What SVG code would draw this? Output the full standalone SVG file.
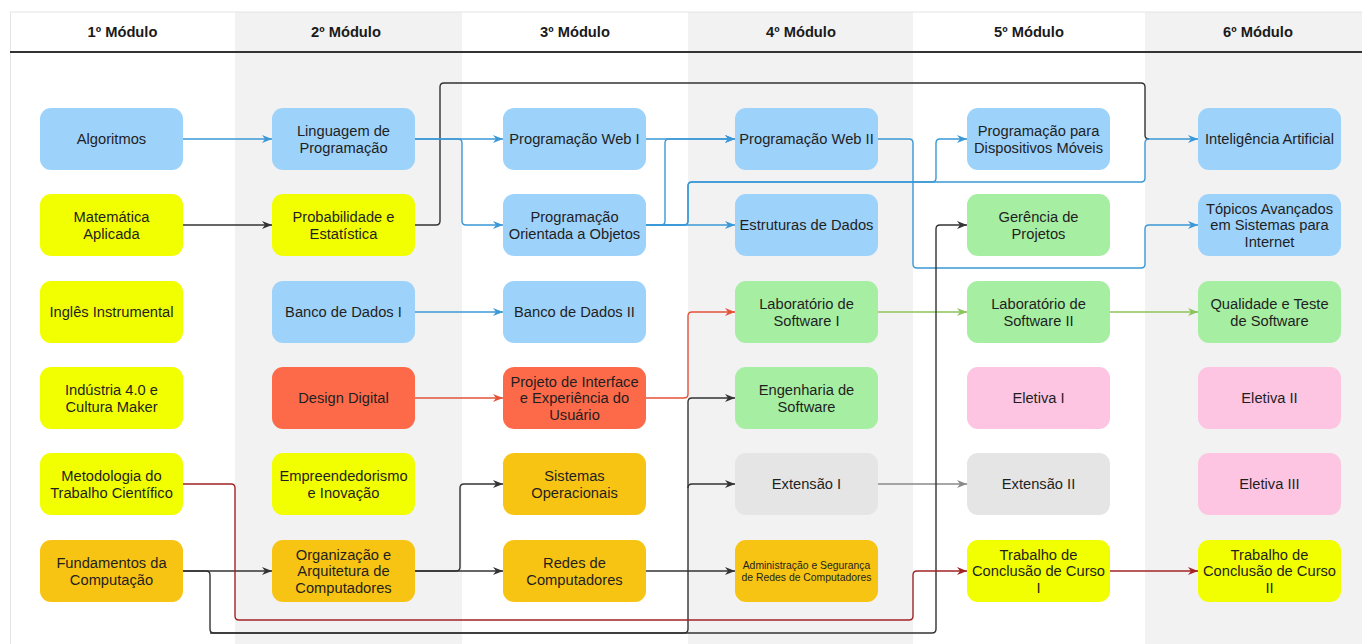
<svg xmlns="http://www.w3.org/2000/svg" width="1362" height="644" viewBox="0 0 1362 644">
<style>
.bg{fill:#f2f2f2}
.hd{font-family:"Liberation Sans",Arial,sans-serif;font-size:14.7px;font-weight:bold;fill:#1a1a1a;text-anchor:middle}
.t{font-family:"Liberation Sans",Arial,sans-serif;font-size:14.7px;fill:#1f1f1f;text-anchor:middle}
.ts{font-family:"Liberation Sans",Arial,sans-serif;font-size:10.4px;fill:#1f1f1f;text-anchor:middle}
.blue{fill:#9dd2fb}.yel{fill:#f2ff00}.org{fill:#f8c414}.red{fill:#fd6a4a}.grn{fill:#a6eea2}.pnk{fill:#fdc5e2}.gry{fill:#e5e5e5}
.c{fill:none;stroke-width:1.4;stroke-linejoin:round}
.cb{stroke:#3b98d6}.ck{stroke:#333333}.cr{stroke:#e5523a}.cg{stroke:#8cc35a}.cy{stroke:#8a8a8a}.cd{stroke:#a22424}
</style>
<defs>
<marker id="ab" markerUnits="userSpaceOnUse" markerWidth="10" markerHeight="8" refX="10" refY="4" orient="auto"><path d="M0,0 L10,4 L0,8 L3,4 z" fill="#3b98d6"/></marker>
<marker id="ak" markerUnits="userSpaceOnUse" markerWidth="10" markerHeight="8" refX="10" refY="4" orient="auto"><path d="M0,0 L10,4 L0,8 L3,4 z" fill="#333333"/></marker>
<marker id="ar" markerUnits="userSpaceOnUse" markerWidth="10" markerHeight="8" refX="10" refY="4" orient="auto"><path d="M0,0 L10,4 L0,8 L3,4 z" fill="#e5523a"/></marker>
<marker id="ag" markerUnits="userSpaceOnUse" markerWidth="10" markerHeight="8" refX="10" refY="4" orient="auto"><path d="M0,0 L10,4 L0,8 L3,4 z" fill="#8cc35a"/></marker>
<marker id="ay" markerUnits="userSpaceOnUse" markerWidth="10" markerHeight="8" refX="10" refY="4" orient="auto"><path d="M0,0 L10,4 L0,8 L3,4 z" fill="#8a8a8a"/></marker>
<marker id="ad" markerUnits="userSpaceOnUse" markerWidth="10" markerHeight="8" refX="10" refY="4" orient="auto"><path d="M0,0 L10,4 L0,8 L3,4 z" fill="#a22424"/></marker>
</defs>
<rect x="0" y="0" width="1362" height="644" fill="#ffffff"/>
<g id="lanes">
<rect class="bg" x="235" y="12" width="227" height="632"/>
<rect class="bg" x="688" y="12" width="225" height="632"/>
<rect class="bg" x="1145" y="12" width="217" height="632"/>
<line x1="10" y1="12" x2="1362" y2="12" stroke="#e4e4e4" stroke-width="1"/>
<line x1="10.5" y1="12" x2="10.5" y2="644" stroke="#e4e4e4" stroke-width="1"/>
<line x1="10" y1="52" x2="1362" y2="52" stroke="#333333" stroke-width="1.8"/>
<text class="hd" x="122.5" y="37">1º Módulo</text>
<text class="hd" x="346" y="37">2º Módulo</text>
<text class="hd" x="575" y="37">3º Módulo</text>
<text class="hd" x="801" y="37">4º Módulo</text>
<text class="hd" x="1029" y="37">5º Módulo</text>
<text class="hd" x="1258" y="37">6º Módulo</text>
</g>
<g id="connectors">
<path class="c ck" d="M415 225 H436 Q440 225 440 221 V87 Q440 83 444 83 H1141 Q1145 83 1145 87 V135 Q1145 139 1149 139"/>
<path class="c cb" d="M183 139 H272" marker-end="url(#ab)"/>
<path class="c cb" d="M415 139 H503" marker-end="url(#ab)"/>
<path class="c cb" d="M415 139 H458 Q462 139 462 143 V221 Q462 225 466 225 H503" marker-end="url(#ab)"/>
<path class="c cb" d="M646 139 H735" marker-end="url(#ab)"/>
<path class="c cb" d="M646 225 H735" marker-end="url(#ab)"/>
<path class="c cb" d="M646 225 H661 Q665 225 665 221 V143 Q665 139 669 139 H735" marker-end="url(#ab)"/>
<path class="c cb" d="M646 225 H684 Q688 225 688 221 V186 Q688 182 692 182 H932 Q936 182 936 178 V143 Q936 139 940 139 H967" marker-end="url(#ab)"/>
<path class="c cb" d="M646 225 H684 Q688 225 688 221 V186 Q688 182 692 182 H1141 Q1145 182 1145 178 V143 Q1145 139 1149 139 H1198" marker-end="url(#ab)"/>
<path class="c cb" d="M878 139 H909 Q913 139 913 143 V264 Q913 268 917 268 H1141 Q1145 268 1145 264 V229 Q1145 225 1149 225 H1198" marker-end="url(#ab)"/>
<path class="c cb" d="M415 312 H503" marker-end="url(#ab)"/>
<path class="c ck" d="M183 225 H272" marker-end="url(#ak)"/>
<path class="c cr" d="M415 398 H503" marker-end="url(#ar)"/>
<path class="c cr" d="M646 398 H684 Q688 398 688 394 V316 Q688 312 692 312 H735" marker-end="url(#ar)"/>
<path class="c cg" d="M878 312 H967" marker-end="url(#ag)"/>
<path class="c cg" d="M1110 312 H1198" marker-end="url(#ag)"/>
<path class="c cy" d="M878 484 H967" marker-end="url(#ay)"/>
<path class="c ck" d="M183 571 H272" marker-end="url(#ak)"/>
<path class="c ck" d="M415 571 H456 Q460 571 460 567 V488 Q460 484 464 484 H503" marker-end="url(#ak)"/>
<path class="c ck" d="M415 571 H503" marker-end="url(#ak)"/>
<path class="c ck" d="M646 571 H735" marker-end="url(#ak)"/>
<path class="c ck" d="M183 571 H206 Q210 571 210 575 V629 Q210 633 214 633 H684 Q688 633 688 629 V402 Q688 398 692 398 H735" marker-end="url(#ak)"/>
<path class="c ck" d="M688 488 Q688 484 692 484 H735" marker-end="url(#ak)"/>
<path class="c ck" d="M210 633 H932 Q936 633 936 629 V229 Q936 225 940 225 H967" marker-end="url(#ak)"/>
<path class="c cd" d="M183 484 H231 Q235 484 235 488 V616 Q235 620 239 620 H909 Q913 620 913 616 V575 Q913 571 917 571 H967" marker-end="url(#ad)"/>
<path class="c cd" d="M1110 571 H1198" marker-end="url(#ad)"/>
</g>
<g id="n-algoritmos"><rect class="blue" x="40" y="108" width="143" height="62" rx="11"/><text class="t" x="111.5" y="144.2">Algoritmos</text></g>
<g id="n-matematica"><rect class="yel" x="40" y="194" width="143" height="62" rx="11"/><text class="t" x="111.5" y="221.8">Matemática<tspan x="111.5" dy="16.8">Aplicada</tspan></text></g>
<g id="n-ingles"><rect class="yel" x="40" y="281" width="143" height="62" rx="11"/><text class="t" x="111.5" y="317.2">Inglês Instrumental</text></g>
<g id="n-industria"><rect class="yel" x="40" y="367" width="143" height="62" rx="11"/><text class="t" x="111.5" y="394.8">Indústria 4.0 e<tspan x="111.5" dy="16.8">Cultura Maker</tspan></text></g>
<g id="n-metodologia"><rect class="yel" x="40" y="453" width="143" height="62" rx="11"/><text class="t" x="111.5" y="480.8">Metodologia do<tspan x="111.5" dy="16.8">Trabalho Científico</tspan></text></g>
<g id="n-fundamentos"><rect class="org" x="40" y="540" width="143" height="62" rx="11"/><text class="t" x="111.5" y="567.8">Fundamentos da<tspan x="111.5" dy="16.8">Computação</tspan></text></g>

<g id="n-linguagem"><rect class="blue" x="272" y="108" width="143" height="62" rx="11"/><text class="t" x="343.5" y="135.8">Linguagem de<tspan x="343.5" dy="16.8">Programação</tspan></text></g>
<g id="n-probabilidade"><rect class="yel" x="272" y="194" width="143" height="62" rx="11"/><text class="t" x="343.5" y="221.8">Probabilidade e<tspan x="343.5" dy="16.8">Estatística</tspan></text></g>
<g id="n-bd1"><rect class="blue" x="272" y="281" width="143" height="62" rx="11"/><text class="t" x="343.5" y="317.2">Banco de Dados I</text></g>
<g id="n-design"><rect class="red" x="272" y="367" width="143" height="62" rx="11"/><text class="t" x="343.5" y="403.2">Design Digital</text></g>
<g id="n-empreend"><rect class="yel" x="272" y="453" width="143" height="62" rx="11"/><text class="t" x="343.5" y="480.8">Empreendedorismo<tspan x="343.5" dy="16.8">e Inovação</tspan></text></g>
<g id="n-organizacao"><rect class="org" x="272" y="540" width="143" height="62" rx="11"/><text class="t" x="343.5" y="559.6">Organização e<tspan x="343.5" dy="16.6">Arquitetura de</tspan><tspan x="343.5" dy="16.6">Computadores</tspan></text></g>

<g id="n-web1"><rect class="blue" x="503" y="108" width="143" height="62" rx="11"/><text class="t" x="574.5" y="144.2">Programação Web I</text></g>
<g id="n-poo"><rect class="blue" x="503" y="194" width="143" height="62" rx="11"/><text class="t" x="574.5" y="221.8">Programação<tspan x="574.5" dy="16.8">Orientada a Objetos</tspan></text></g>
<g id="n-bd2"><rect class="blue" x="503" y="281" width="143" height="62" rx="11"/><text class="t" x="574.5" y="317.2">Banco de Dados II</text></g>
<g id="n-interface"><rect class="red" x="503" y="367" width="143" height="62" rx="11"/><text class="t" x="574.5" y="386.8">Projeto de Interface<tspan x="574.5" dy="16.4">e Experiência do</tspan><tspan x="574.5" dy="16.4">Usuário</tspan></text></g>
<g id="n-so"><rect class="org" x="503" y="453" width="143" height="62" rx="11"/><text class="t" x="574.5" y="480.8">Sistemas<tspan x="574.5" dy="16.8">Operacionais</tspan></text></g>
<g id="n-redes"><rect class="org" x="503" y="540" width="143" height="62" rx="11"/><text class="t" x="574.5" y="567.8">Redes de<tspan x="574.5" dy="16.8">Computadores</tspan></text></g>

<g id="n-web2"><rect class="blue" x="735" y="108" width="143" height="62" rx="11"/><text class="t" x="806.5" y="144.2">Programação Web II</text></g>
<g id="n-estruturas"><rect class="blue" x="735" y="194" width="143" height="62" rx="11"/><text class="t" x="806.5" y="230.2">Estruturas de Dados</text></g>
<g id="n-lab1"><rect class="grn" x="735" y="281" width="143" height="62" rx="11"/><text class="t" x="806.5" y="308.8">Laboratório de<tspan x="806.5" dy="16.8">Software I</tspan></text></g>
<g id="n-engsw"><rect class="grn" x="735" y="367" width="143" height="62" rx="11"/><text class="t" x="806.5" y="394.8">Engenharia de<tspan x="806.5" dy="16.8">Software</tspan></text></g>
<g id="n-ext1"><rect class="gry" x="735" y="453" width="143" height="62" rx="11"/><text class="t" x="806.5" y="489.2">Extensão I</text></g>
<g id="n-admin"><rect class="org" x="735" y="540" width="143" height="62" rx="11"/><text class="ts" x="806.5" y="569">Administração e Segurança<tspan x="806.5" dy="11.6">de Redes de Computadores</tspan></text></g>

<g id="n-moveis"><rect class="blue" x="967" y="108" width="143" height="62" rx="11"/><text class="t" x="1038.5" y="135.8">Programação para<tspan x="1038.5" dy="16.8">Dispositivos Móveis</tspan></text></g>
<g id="n-gerencia"><rect class="grn" x="967" y="194" width="143" height="62" rx="11"/><text class="t" x="1038.5" y="221.8">Gerência de<tspan x="1038.5" dy="16.8">Projetos</tspan></text></g>
<g id="n-lab2"><rect class="grn" x="967" y="281" width="143" height="62" rx="11"/><text class="t" x="1038.5" y="308.8">Laboratório de<tspan x="1038.5" dy="16.8">Software II</tspan></text></g>
<g id="n-eletiva1"><rect class="pnk" x="967" y="367" width="143" height="62" rx="11"/><text class="t" x="1038.5" y="403.2">Eletiva I</text></g>
<g id="n-ext2"><rect class="gry" x="967" y="453" width="143" height="62" rx="11"/><text class="t" x="1038.5" y="489.2">Extensão II</text></g>
<g id="n-tcc1"><rect class="yel" x="967" y="540" width="143" height="62" rx="11"/><text class="t" x="1038.5" y="559.6">Trabalho de<tspan x="1038.5" dy="16.6">Conclusão de Curso</tspan><tspan x="1038.5" dy="16.6">I</tspan></text></g>

<g id="n-ia"><rect class="blue" x="1198" y="108" width="143" height="62" rx="11"/><text class="t" x="1269.5" y="144.2">Inteligência Artificial</text></g>
<g id="n-topicos"><rect class="blue" x="1198" y="194" width="143" height="62" rx="11"/><text class="t" x="1269.5" y="213.6">Tópicos Avançados<tspan x="1269.5" dy="16.6">em Sistemas para</tspan><tspan x="1269.5" dy="16.6">Internet</tspan></text></g>
<g id="n-qualidade"><rect class="grn" x="1198" y="281" width="143" height="62" rx="11"/><text class="t" x="1269.5" y="308.8">Qualidade e Teste<tspan x="1269.5" dy="16.8">de Software</tspan></text></g>
<g id="n-eletiva2"><rect class="pnk" x="1198" y="367" width="143" height="62" rx="11"/><text class="t" x="1269.5" y="403.2">Eletiva II</text></g>
<g id="n-eletiva3"><rect class="pnk" x="1198" y="453" width="143" height="62" rx="11"/><text class="t" x="1269.5" y="489.2">Eletiva III</text></g>
<g id="n-tcc2"><rect class="yel" x="1198" y="540" width="143" height="62" rx="11"/><text class="t" x="1269.5" y="559.6">Trabalho de<tspan x="1269.5" dy="16.6">Conclusão de Curso</tspan><tspan x="1269.5" dy="16.6">II</tspan></text></g>
</svg>
